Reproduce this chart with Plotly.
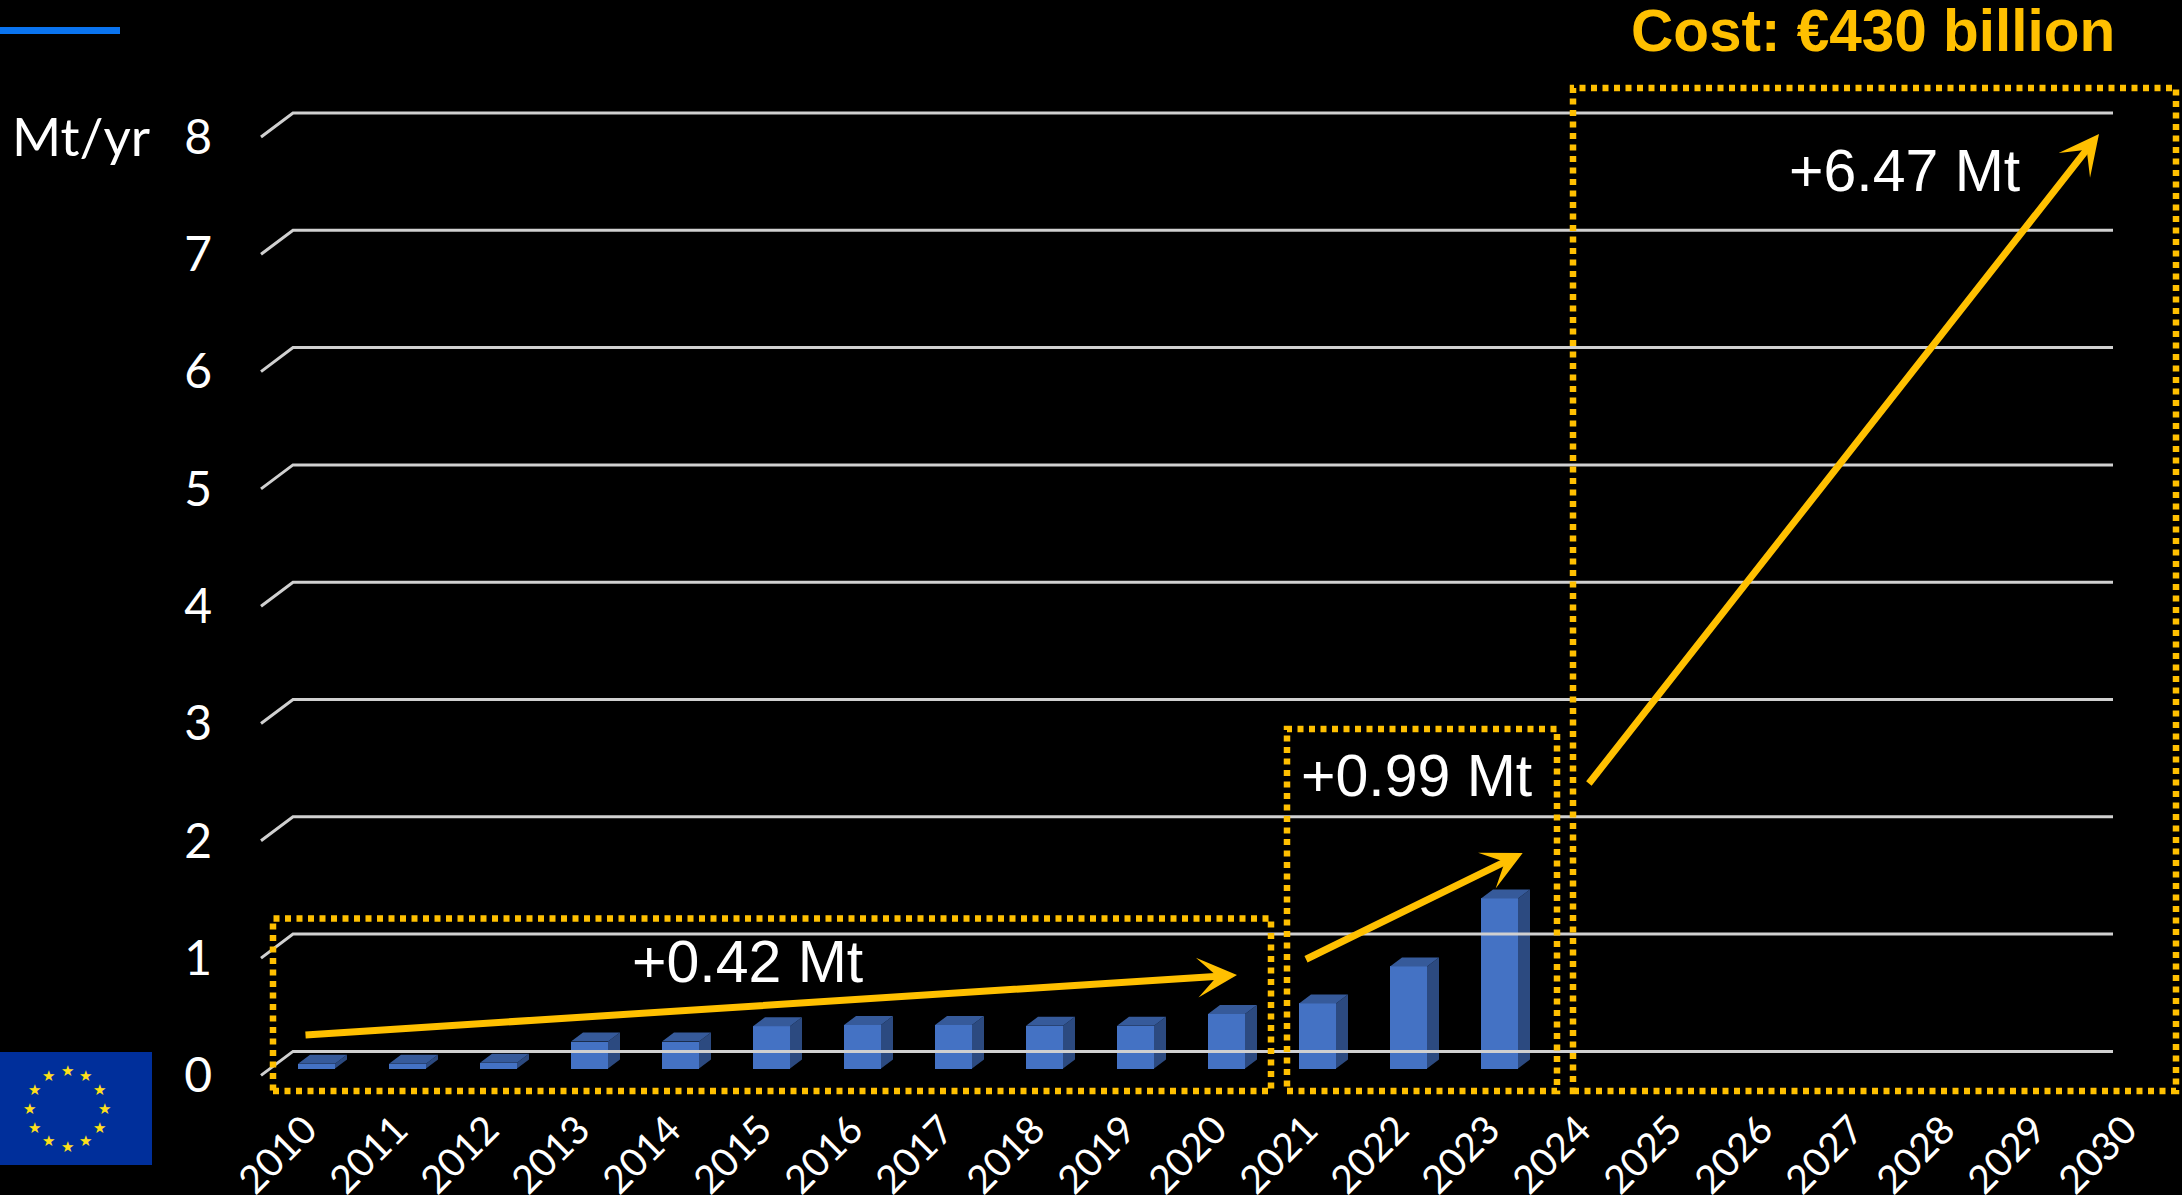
import math
import plotly.graph_objects as go

W, H = 2182, 1195
years = list(range(2010, 2024))
values = [0.04, 0.04, 0.05, 0.23, 0.23, 0.36, 0.37, 0.37, 0.365, 0.365, 0.465, 0.555, 0.87, 1.45]
all_years = list(range(2010, 2031))
y_ticks = [0, 1, 2, 3, 4, 5, 6, 7, 8]

PLOT_L, PLOT_B = 225, 1098
PX_PER_YEAR, PX_PER_MT = 91.0, 117.3
X0_PX, Y0_PX = 316.5, 1075.4
LABEL_SHIFT = 11 / PX_PER_YEAR


def xd(px):
    return 2010 + (px - X0_PX) / PX_PER_YEAR


def yd(py):
    return (Y0_PX - py) / PX_PER_MT


def xp(px):
    return (px - PLOT_L) / (W - PLOT_L)


def yp(py):
    return (PLOT_B - py) / PLOT_B


GOLD = "#FFC000"
BAR_W = 37 / PX_PER_YEAR
BASE = 6.9 / PX_PER_MT
DX, DY = 12 / PX_PER_YEAR, 9 / PX_PER_MT

fig = go.Figure()

fig.add_trace(go.Bar(x=years, y=values, base=BASE, width=BAR_W,
                     marker=dict(color="#4472C4", line=dict(width=0)), showlegend=False))

side_x, side_y, top_x, top_y = [], [], [], []
for yr, v in zip(years, values):
    xl, xr = yr - BAR_W / 2, yr + BAR_W / 2
    t = BASE + v
    side_x += [xr, xr + DX, xr + DX, xr, xr, None]
    side_y += [BASE, BASE + DY, t + DY, t, BASE, None]
    top_x += [xl, xl + DX, xr + DX, xr, xl, None]
    top_y += [t, t + DY, t + DY, t, t, None]
fig.add_trace(go.Scatter(x=side_x, y=side_y, mode="lines", fill="toself", fillcolor="#2C4A80",
                         line=dict(width=0), showlegend=False, hoverinfo="skip"))
fig.add_trace(go.Scatter(x=top_x, y=top_y, mode="lines", fill="toself", fillcolor="#365A9A",
                         line=dict(width=0), showlegend=False, hoverinfo="skip"))

# Back-wall grid with its short floor-depth stub
back_dy = (137 - 113) / PX_PER_MT
for v in y_ticks:
    fig.add_trace(go.Scatter(x=[xd(261), xd(293), xd(2113)], y=[v, v + back_dy, v + back_dy],
                             mode="lines", line=dict(color="#D0D0D0", width=3),
                             showlegend=False, hoverinfo="skip"))


def box(x0, y0, x1, y1):
    return dict(type="rect", xref="paper", yref="paper", x0=xp(x0), x1=xp(x1), y0=yp(y1), y1=yp(y0),
                line=dict(color=GOLD, width=6.5, dash="6px,5.5px"), fillcolor="rgba(0,0,0,0)", layer="above")


shapes = [
    dict(type="rect", xref="paper", yref="paper", x0=xp(0), x1=xp(152), y0=yp(1165), y1=yp(1052),
         line=dict(width=0), fillcolor="#002F9B", layer="below"),
    dict(type="rect", xref="paper", yref="paper", x0=xp(0), x1=xp(120), y0=yp(34), y1=yp(27),
         line=dict(width=0), fillcolor="#0A74F0", layer="below"),
    box(273, 918.5, 1271, 1091),
    box(1287, 729, 1557, 1091),
    box(1573, 88, 2176, 1091),
]


def arrow(x0, y0, x1, y1):
    return dict(x=xd(x1), y=yd(y1), ax=xd(x0), ay=yd(y0), xref="x", yref="y", axref="x", ayref="y",
                text="", showarrow=True, arrowhead=3, arrowsize=0.95, arrowwidth=7,
                arrowcolor=GOLD, standoff=0, startstandoff=0)


def label(text, x, y, size, color="white", family="Liberation Sans"):
    return dict(text=text, xref="paper", yref="paper", x=xp(x), y=yp(y), xanchor="center", yanchor="middle",
                showarrow=False, font=dict(size=size, color=color, family=family))


stars = [label("★", 67 + 37.5 * math.sin(math.radians(30 * i)), 1108.5 - 38 * math.cos(math.radians(30 * i)),
               15, "#FFE01A", "DejaVu Sans") for i in range(12)]

annotations = [
    arrow(304, 1035, 1237, 975),
    arrow(1304.5, 960, 1522.7, 853),
    arrow(1587.7, 785, 2099, 134),
    label("+0.42 Mt", 747, 962, 59),
    label("+0.99 Mt", 1416, 776, 59),
    label("+6.47 Mt", 1904, 171, 59),
    label("<b>Cost: €430 billion</b>", 1873, 31, 58.5, GOLD),
    label("Mt/yr", 81, 135, 53, "white", "Lato"),
] + stars

fig.update_layout(
    width=W, height=H, autosize=False,
    margin=dict(l=PLOT_L, r=0, t=0, b=H - PLOT_B, pad=0),
    paper_bgcolor="black", plot_bgcolor="black",
    shapes=shapes, annotations=annotations, showlegend=False, bargap=0,
    xaxis=dict(range=[xd(PLOT_L), xd(W)], tickmode="array", tickvals=[y - LABEL_SHIFT for y in all_years],
               ticktext=[str(y) for y in all_years], tickangle=-45, showgrid=False, zeroline=False,
               showline=False, ticks="", ticklabelstandoff=0, automargin=False,
               tickfont=dict(family="Lato", size=39, color="white")),
    yaxis=dict(range=[yd(PLOT_B), yd(0)], tickmode="array", tickvals=y_ticks,
               ticktext=[str(v) for v in y_ticks], showgrid=False, zeroline=False, showline=False,
               ticks="", ticklabelstandoff=12, automargin=False,
               tickfont=dict(family="Lato", size=48, color="white")),
)

fig.write_html("out.html", post_script="document.body.style.margin='0';", config={"displayModeBar": False})
